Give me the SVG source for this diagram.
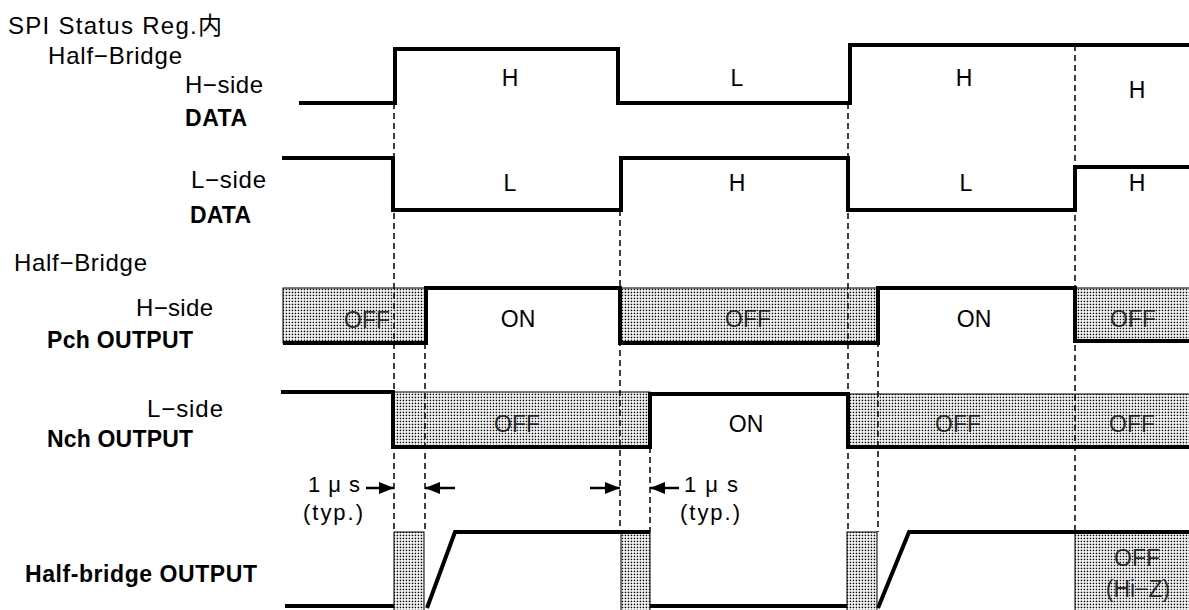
<svg xmlns="http://www.w3.org/2000/svg" width="1189" height="610" viewBox="0 0 1189 610">
<defs>
<pattern id="dots" width="3" height="3" patternUnits="userSpaceOnUse"><rect width="3" height="3" fill="#fff"/><rect x="0.7" y="0.7" width="1.5" height="1.5" fill="#000"/></pattern>
<marker id="ah" markerWidth="15" markerHeight="12" refX="15" refY="6" orient="auto" markerUnits="userSpaceOnUse"><path d="M0,0 L15,6 L0,12 z" fill="#000"/></marker>
</defs>
<style>
.lbl{font-family:"Liberation Sans","Noto Sans CJK JP",sans-serif;font-size:24px;fill:#000}
.b{font-weight:bold;font-size:23px}
.s{font-size:23px}
.t{font-size:22px}
.c{text-anchor:middle}
.wave{fill:none;stroke:#000;stroke-width:4;stroke-linejoin:miter}
.dash{stroke:#000;stroke-width:1.5;stroke-dasharray:6 4;fill:none}
.shade{fill:url(#dots);stroke:#000;stroke-width:1}
.off{fill:#000;fill-opacity:0.8}
.arr{stroke:#000;stroke-width:2.5;fill:none;marker-end:url(#ah)}
</style>
<rect width="1189" height="610" fill="#fff"/>

<g id="labels">
<text class="lbl" x="8" y="34" textLength="214">SPI Status Reg.内</text>
<text class="lbl" x="48" y="64" textLength="134">Half−Bridge</text>
<text class="lbl" x="185" y="93" textLength="78">H−side</text>
<text class="lbl b" x="185" y="126" textLength="62">DATA</text>
<text class="lbl" x="191" y="188" textLength="75">L−side</text>
<text class="lbl b" x="190" y="223" textLength="61">DATA</text>
<text class="lbl" x="14" y="271" textLength="133">Half−Bridge</text>
<text class="lbl" x="136" y="316" textLength="77">H−side</text>
<text class="lbl b" x="47" y="348" textLength="146">Pch OUTPUT</text>
<text class="lbl" x="147" y="417" textLength="76">L−side</text>
<text class="lbl b" x="47" y="447" textLength="146">Nch OUTPUT</text>
<text class="lbl b" x="25" y="582" textLength="232">Half-bridge OUTPUT</text>
</g>

<g id="shading">
<rect class="shade" x="283" y="288" width="143" height="55"/>
<rect class="shade" x="620" y="288" width="258" height="55"/>
<rect class="shade" x="1075" y="288" width="116" height="53"/>
<rect class="shade" x="393" y="392" width="257" height="55"/>
<rect class="shade" x="848" y="394" width="343" height="53"/>
<rect class="shade" x="394" y="532" width="30" height="80"/>
<rect class="shade" x="621" y="532" width="29" height="80"/>
<rect class="shade" x="847" y="532" width="30" height="80"/>
<rect class="shade" x="1075" y="532" width="116" height="80"/>
</g>

<g id="connectors">
<path class="dash" d="M394,103 V532"/>
<path class="dash" d="M425,343 V532"/>
<path class="dash" d="M620,210 V532"/>
<path class="dash" d="M650,447 V532"/>
<path class="dash" d="M848,103 V532"/>
<path class="dash" d="M878,341 V532"/>
<path class="dash" d="M1075,45 V532"/>
<path class="arr" d="M366,488 H394"/>
<path class="arr" d="M455,488 H425"/>
<path class="arr" d="M590,488 H620"/>
<path class="arr" d="M679,488 H650"/>
</g>

<g id="waveforms">
<path id="hside-data" class="wave" d="M299,103 H395 V49 H618 V103 H850 V45 H1189"/>
<path id="lside-data" class="wave" d="M282,158 H393 V210 H621 V158 H848 V210 H1075 V167 H1189"/>
<path id="pch-output" class="wave" d="M283,343 H426 V288 H620 V343 H878 V288 H1075 V341 H1189"/>
<path id="nch-output" class="wave" d="M281,392 H393 V447 H650 V394 H848 V447 H1189"/>
<path id="hb-output" class="wave" d="M285,606 H394 M427,608 L455,532 H650 M650,606 H847 M878,608 L909,532 H1189"/>
</g>

<g id="state-texts">
<text class="lbl s c" x="510" y="86">H</text>
<text class="lbl s c" x="737" y="86">L</text>
<text class="lbl s c" x="964" y="86">H</text>
<text class="lbl s c" x="1137" y="98">H</text>
<text class="lbl s c" x="510" y="191">L</text>
<text class="lbl s c" x="737" y="191">H</text>
<text class="lbl s c" x="966" y="191">L</text>
<text class="lbl s c" x="1137" y="191">H</text>
<text class="lbl s c off" x="367" y="328">OFF</text>
<text class="lbl s c" x="518" y="327">ON</text>
<text class="lbl s c off" x="748" y="327">OFF</text>
<text class="lbl s c" x="974" y="327">ON</text>
<text class="lbl s c off" x="1133" y="327">OFF</text>
<text class="lbl s c off" x="517" y="432">OFF</text>
<text class="lbl s c" x="746" y="432">ON</text>
<text class="lbl s c off" x="958" y="432">OFF</text>
<text class="lbl s c off" x="1132" y="432">OFF</text>
<text class="lbl s c off" x="1137" y="566">OFF</text>
<text class="lbl s c off" x="1138" y="597">(Hi−Z)</text>
</g>

<g id="timing-texts">
<text class="lbl t" x="308" y="492" textLength="52">1μs</text>
<text class="lbl t" x="303" y="520" textLength="60">(typ.)</text>
<text class="lbl t" x="684" y="492" textLength="54">1μs</text>
<text class="lbl t" x="680" y="520" textLength="60">(typ.)</text>
</g>
</svg>
